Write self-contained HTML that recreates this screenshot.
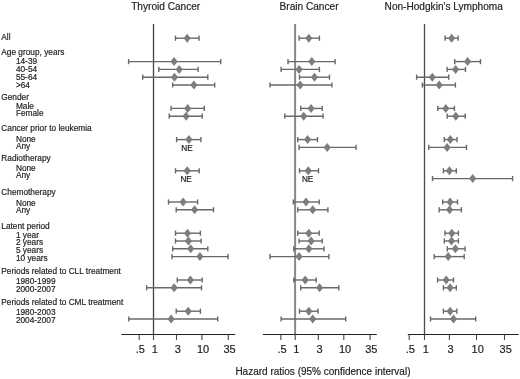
<!DOCTYPE html>
<html><head><meta charset="utf-8"><style>
html,body{margin:0;padding:0;background:#fff;}
body{width:520px;height:379px;position:relative;overflow:hidden;font-family:"Liberation Sans",sans-serif;}
svg text{font-family:"Liberation Sans",sans-serif;stroke:#222;stroke-width:0.18px;}
</style></head><body>
<svg width="520" height="379" viewBox="0 0 520 379" style="position:absolute;left:0;top:0;will-change:transform">
<rect width="520" height="379" fill="#fff"/>
<text x="1.3" y="40.02" font-size="8.3" fill="#222">All</text>
<text x="1.3" y="54.52" font-size="8.3" fill="#222">Age group, years</text>
<text x="15.9" y="64.47" font-size="8.3" fill="#222">14-39</text>
<text x="15.9" y="71.87" font-size="8.3" fill="#222">40-54</text>
<text x="15.9" y="79.57" font-size="8.3" fill="#222">55-64</text>
<text x="15.9" y="87.67" font-size="8.3" fill="#222">&gt;64</text>
<text x="1.3" y="99.82" font-size="8.3" fill="#222">Gender</text>
<text x="15.9" y="109.12" font-size="8.3" fill="#222">Male</text>
<text x="15.9" y="116.32" font-size="8.3" fill="#222">Female</text>
<text x="1.3" y="130.72" font-size="8.3" fill="#222">Cancer prior to leukemia</text>
<text x="15.9" y="141.62" font-size="8.3" fill="#222">None</text>
<text x="15.9" y="149.02" font-size="8.3" fill="#222">Any</text>
<text x="1.3" y="161.12" font-size="8.3" fill="#222">Radiotherapy</text>
<text x="15.9" y="170.82" font-size="8.3" fill="#222">None</text>
<text x="15.9" y="178.32" font-size="8.3" fill="#222">Any</text>
<text x="1.3" y="195.22" font-size="8.3" fill="#222">Chemotherapy</text>
<text x="15.9" y="205.62" font-size="8.3" fill="#222">None</text>
<text x="15.9" y="213.22" font-size="8.3" fill="#222">Any</text>
<text x="1.3" y="228.92" font-size="8.3" fill="#222">Latent period</text>
<text x="15.9" y="237.52" font-size="8.3" fill="#222">1 year</text>
<text x="15.9" y="245.42" font-size="8.3" fill="#222">2 years</text>
<text x="15.9" y="252.92" font-size="8.3" fill="#222">5 years</text>
<text x="15.9" y="260.92" font-size="8.3" fill="#222">10 years</text>
<text x="1.3" y="273.92" font-size="8.3" fill="#222">Periods related to CLL treatment</text>
<text x="15.9" y="284.32" font-size="8.3" fill="#222">1980-1999</text>
<text x="15.9" y="292.02" font-size="8.3" fill="#222">2000-2007</text>
<text x="1.3" y="305.22" font-size="8.3" fill="#222">Periods related to CML treatment</text>
<text x="15.9" y="315.22" font-size="8.3" fill="#222">1980-2003</text>
<text x="15.9" y="322.72" font-size="8.3" fill="#222">2004-2007</text>
<text x="131.2" y="9.7" font-size="10.1" fill="#222">Thyroid Cancer</text>
<text x="279.6" y="9.7" font-size="10.1" fill="#222">Brain Cancer</text>
<text x="384.6" y="9.7" font-size="10.1" fill="#222">Non-Hodgkin&#39;s Lymphoma</text>
<text x="235.4" y="375.4" font-size="10" fill="#222">Hazard ratios (95% confidence interval)</text>
<line x1="153.5" y1="23.9" x2="153.5" y2="334.5" stroke="#444" stroke-width="1.3"/>
<line x1="121.5" y1="334.5" x2="235.3" y2="334.5" stroke="#222" stroke-width="1.2"/>
<line x1="139.20" y1="334.5" x2="139.20" y2="339.9" stroke="#444" stroke-width="1.1"/>
<text x="140.40" y="352.9" font-size="11" text-anchor="middle" fill="#222">.5</text>
<line x1="153.50" y1="334.5" x2="153.50" y2="339.9" stroke="#444" stroke-width="1.1"/>
<text x="154.70" y="352.9" font-size="11" text-anchor="middle" fill="#222">1</text>
<line x1="176.50" y1="334.5" x2="176.50" y2="339.9" stroke="#444" stroke-width="1.1"/>
<text x="177.70" y="352.9" font-size="11" text-anchor="middle" fill="#222">3</text>
<line x1="201.90" y1="334.5" x2="201.90" y2="339.9" stroke="#444" stroke-width="1.1"/>
<text x="203.10" y="352.9" font-size="11" text-anchor="middle" fill="#222">10</text>
<line x1="228.30" y1="334.5" x2="228.30" y2="339.9" stroke="#444" stroke-width="1.1"/>
<text x="229.50" y="352.9" font-size="11" text-anchor="middle" fill="#222">35</text>
<line x1="175.5" y1="38.20" x2="199.0" y2="38.20" stroke="#686868" stroke-width="1.4"/>
<line x1="175.5" y1="35.60" x2="175.5" y2="40.80" stroke="#686868" stroke-width="1.4"/>
<line x1="199.0" y1="35.60" x2="199.0" y2="40.80" stroke="#686868" stroke-width="1.4"/>
<path d="M183.60 38.20L187.20 33.70L190.80 38.20L187.20 42.70Z" fill="#7d7d7d"/>
<line x1="128.6" y1="61.60" x2="220.7" y2="61.60" stroke="#686868" stroke-width="1.4"/>
<line x1="128.6" y1="59.00" x2="128.6" y2="64.20" stroke="#686868" stroke-width="1.4"/>
<line x1="220.7" y1="59.00" x2="220.7" y2="64.20" stroke="#686868" stroke-width="1.4"/>
<path d="M170.50 61.60L174.10 57.10L177.70 61.60L174.10 66.10Z" fill="#7d7d7d"/>
<line x1="158.8" y1="69.40" x2="198.1" y2="69.40" stroke="#686868" stroke-width="1.4"/>
<line x1="158.8" y1="66.80" x2="158.8" y2="72.00" stroke="#686868" stroke-width="1.4"/>
<line x1="198.1" y1="66.80" x2="198.1" y2="72.00" stroke="#686868" stroke-width="1.4"/>
<path d="M175.60 69.40L179.20 64.90L182.80 69.40L179.20 73.90Z" fill="#7d7d7d"/>
<line x1="142.7" y1="77.20" x2="207.8" y2="77.20" stroke="#686868" stroke-width="1.4"/>
<line x1="142.7" y1="74.60" x2="142.7" y2="79.80" stroke="#686868" stroke-width="1.4"/>
<line x1="207.8" y1="74.60" x2="207.8" y2="79.80" stroke="#686868" stroke-width="1.4"/>
<path d="M170.90 77.20L174.50 72.70L178.10 77.20L174.50 81.70Z" fill="#7d7d7d"/>
<line x1="172.7" y1="85.00" x2="214.7" y2="85.00" stroke="#686868" stroke-width="1.4"/>
<line x1="172.7" y1="82.40" x2="172.7" y2="87.60" stroke="#686868" stroke-width="1.4"/>
<line x1="214.7" y1="82.40" x2="214.7" y2="87.60" stroke="#686868" stroke-width="1.4"/>
<path d="M190.30 85.00L193.90 80.50L197.50 85.00L193.90 89.50Z" fill="#7d7d7d"/>
<line x1="171.1" y1="108.40" x2="204.3" y2="108.40" stroke="#686868" stroke-width="1.4"/>
<line x1="171.1" y1="105.80" x2="171.1" y2="111.00" stroke="#686868" stroke-width="1.4"/>
<line x1="204.3" y1="105.80" x2="204.3" y2="111.00" stroke="#686868" stroke-width="1.4"/>
<path d="M184.10 108.40L187.70 103.90L191.30 108.40L187.70 112.90Z" fill="#7d7d7d"/>
<line x1="169.2" y1="116.20" x2="202.2" y2="116.20" stroke="#686868" stroke-width="1.4"/>
<line x1="169.2" y1="113.60" x2="169.2" y2="118.80" stroke="#686868" stroke-width="1.4"/>
<line x1="202.2" y1="113.60" x2="202.2" y2="118.80" stroke="#686868" stroke-width="1.4"/>
<path d="M182.50 116.20L186.10 111.70L189.70 116.20L186.10 120.70Z" fill="#7d7d7d"/>
<line x1="176.6" y1="139.60" x2="200.9" y2="139.60" stroke="#686868" stroke-width="1.4"/>
<line x1="176.6" y1="137.00" x2="176.6" y2="142.20" stroke="#686868" stroke-width="1.4"/>
<line x1="200.9" y1="137.00" x2="200.9" y2="142.20" stroke="#686868" stroke-width="1.4"/>
<path d="M185.30 139.60L188.90 135.10L192.50 139.60L188.90 144.10Z" fill="#7d7d7d"/>
<text x="187.0" y="150.80" font-size="8.2" text-anchor="middle" fill="#222">NE</text>
<line x1="175.5" y1="170.80" x2="199.2" y2="170.80" stroke="#686868" stroke-width="1.4"/>
<line x1="175.5" y1="168.20" x2="175.5" y2="173.40" stroke="#686868" stroke-width="1.4"/>
<line x1="199.2" y1="168.20" x2="199.2" y2="173.40" stroke="#686868" stroke-width="1.4"/>
<path d="M183.60 170.80L187.20 166.30L190.80 170.80L187.20 175.30Z" fill="#7d7d7d"/>
<text x="186.1" y="182.00" font-size="8.2" text-anchor="middle" fill="#222">NE</text>
<line x1="168.5" y1="202.00" x2="197.6" y2="202.00" stroke="#686868" stroke-width="1.4"/>
<line x1="168.5" y1="199.40" x2="168.5" y2="204.60" stroke="#686868" stroke-width="1.4"/>
<line x1="197.6" y1="199.40" x2="197.6" y2="204.60" stroke="#686868" stroke-width="1.4"/>
<path d="M179.50 202.00L183.10 197.50L186.70 202.00L183.10 206.50Z" fill="#7d7d7d"/>
<line x1="176.2" y1="209.80" x2="213.5" y2="209.80" stroke="#686868" stroke-width="1.4"/>
<line x1="176.2" y1="207.20" x2="176.2" y2="212.40" stroke="#686868" stroke-width="1.4"/>
<line x1="213.5" y1="207.20" x2="213.5" y2="212.40" stroke="#686868" stroke-width="1.4"/>
<path d="M191.00 209.80L194.60 205.30L198.20 209.80L194.60 214.30Z" fill="#7d7d7d"/>
<line x1="175.5" y1="233.20" x2="200.4" y2="233.20" stroke="#686868" stroke-width="1.4"/>
<line x1="175.5" y1="230.60" x2="175.5" y2="235.80" stroke="#686868" stroke-width="1.4"/>
<line x1="200.4" y1="230.60" x2="200.4" y2="235.80" stroke="#686868" stroke-width="1.4"/>
<path d="M183.90 233.20L187.50 228.70L191.10 233.20L187.50 237.70Z" fill="#7d7d7d"/>
<line x1="175.5" y1="241.00" x2="201.1" y2="241.00" stroke="#686868" stroke-width="1.4"/>
<line x1="175.5" y1="238.40" x2="175.5" y2="243.60" stroke="#686868" stroke-width="1.4"/>
<line x1="201.1" y1="238.40" x2="201.1" y2="243.60" stroke="#686868" stroke-width="1.4"/>
<path d="M184.80 241.00L188.40 236.50L192.00 241.00L188.40 245.50Z" fill="#7d7d7d"/>
<line x1="172.7" y1="248.80" x2="207.8" y2="248.80" stroke="#686868" stroke-width="1.4"/>
<line x1="172.7" y1="246.20" x2="172.7" y2="251.40" stroke="#686868" stroke-width="1.4"/>
<line x1="207.8" y1="246.20" x2="207.8" y2="251.40" stroke="#686868" stroke-width="1.4"/>
<path d="M187.10 248.80L190.70 244.30L194.30 248.80L190.70 253.30Z" fill="#7d7d7d"/>
<line x1="172.0" y1="256.60" x2="228.1" y2="256.60" stroke="#686868" stroke-width="1.4"/>
<line x1="172.0" y1="254.00" x2="172.0" y2="259.20" stroke="#686868" stroke-width="1.4"/>
<line x1="228.1" y1="254.00" x2="228.1" y2="259.20" stroke="#686868" stroke-width="1.4"/>
<path d="M196.30 256.60L199.90 252.10L203.50 256.60L199.90 261.10Z" fill="#7d7d7d"/>
<line x1="177.3" y1="280.00" x2="202.2" y2="280.00" stroke="#686868" stroke-width="1.4"/>
<line x1="177.3" y1="277.40" x2="177.3" y2="282.60" stroke="#686868" stroke-width="1.4"/>
<line x1="202.2" y1="277.40" x2="202.2" y2="282.60" stroke="#686868" stroke-width="1.4"/>
<path d="M186.80 280.00L190.40 275.50L194.00 280.00L190.40 284.50Z" fill="#7d7d7d"/>
<line x1="146.6" y1="287.80" x2="201.5" y2="287.80" stroke="#686868" stroke-width="1.4"/>
<line x1="146.6" y1="285.20" x2="146.6" y2="290.40" stroke="#686868" stroke-width="1.4"/>
<line x1="201.5" y1="285.20" x2="201.5" y2="290.40" stroke="#686868" stroke-width="1.4"/>
<path d="M170.50 287.80L174.10 283.30L177.70 287.80L174.10 292.30Z" fill="#7d7d7d"/>
<line x1="176.2" y1="311.20" x2="200.4" y2="311.20" stroke="#686868" stroke-width="1.4"/>
<line x1="176.2" y1="308.60" x2="176.2" y2="313.80" stroke="#686868" stroke-width="1.4"/>
<line x1="200.4" y1="308.60" x2="200.4" y2="313.80" stroke="#686868" stroke-width="1.4"/>
<path d="M184.60 311.20L188.20 306.70L191.80 311.20L188.20 315.70Z" fill="#7d7d7d"/>
<line x1="128.8" y1="319.00" x2="217.7" y2="319.00" stroke="#686868" stroke-width="1.4"/>
<line x1="128.8" y1="316.40" x2="128.8" y2="321.60" stroke="#686868" stroke-width="1.4"/>
<line x1="217.7" y1="316.40" x2="217.7" y2="321.60" stroke="#686868" stroke-width="1.4"/>
<path d="M167.50 319.00L171.10 314.50L174.70 319.00L171.10 323.50Z" fill="#7d7d7d"/>
<line x1="295.1" y1="23.9" x2="295.1" y2="334.5" stroke="#888" stroke-width="2.0"/>
<line x1="263.0" y1="334.5" x2="376.8" y2="334.5" stroke="#222" stroke-width="1.2"/>
<line x1="280.90" y1="334.5" x2="280.90" y2="339.9" stroke="#444" stroke-width="1.1"/>
<text x="282.10" y="352.9" font-size="11" text-anchor="middle" fill="#222">.5</text>
<line x1="295.20" y1="334.5" x2="295.20" y2="339.9" stroke="#444" stroke-width="1.1"/>
<text x="296.40" y="352.9" font-size="11" text-anchor="middle" fill="#222">1</text>
<line x1="318.30" y1="334.5" x2="318.30" y2="339.9" stroke="#444" stroke-width="1.1"/>
<text x="319.50" y="352.9" font-size="11" text-anchor="middle" fill="#222">3</text>
<line x1="343.80" y1="334.5" x2="343.80" y2="339.9" stroke="#444" stroke-width="1.1"/>
<text x="345.00" y="352.9" font-size="11" text-anchor="middle" fill="#222">10</text>
<line x1="370.10" y1="334.5" x2="370.10" y2="339.9" stroke="#444" stroke-width="1.1"/>
<text x="371.30" y="352.9" font-size="11" text-anchor="middle" fill="#222">35</text>
<line x1="299.1" y1="38.20" x2="319.4" y2="38.20" stroke="#686868" stroke-width="1.4"/>
<line x1="299.1" y1="35.60" x2="299.1" y2="40.80" stroke="#686868" stroke-width="1.4"/>
<line x1="319.4" y1="35.60" x2="319.4" y2="40.80" stroke="#686868" stroke-width="1.4"/>
<path d="M305.20 38.20L308.80 33.70L312.40 38.20L308.80 42.70Z" fill="#7d7d7d"/>
<line x1="288.0" y1="61.60" x2="335.1" y2="61.60" stroke="#686868" stroke-width="1.4"/>
<line x1="288.0" y1="59.00" x2="288.0" y2="64.20" stroke="#686868" stroke-width="1.4"/>
<line x1="335.1" y1="59.00" x2="335.1" y2="64.20" stroke="#686868" stroke-width="1.4"/>
<path d="M308.20 61.60L311.80 57.10L315.40 61.60L311.80 66.10Z" fill="#7d7d7d"/>
<line x1="281.1" y1="69.40" x2="319.4" y2="69.40" stroke="#686868" stroke-width="1.4"/>
<line x1="281.1" y1="66.80" x2="281.1" y2="72.00" stroke="#686868" stroke-width="1.4"/>
<line x1="319.4" y1="66.80" x2="319.4" y2="72.00" stroke="#686868" stroke-width="1.4"/>
<path d="M295.50 69.40L299.10 64.90L302.70 69.40L299.10 73.90Z" fill="#7d7d7d"/>
<line x1="299.5" y1="77.20" x2="329.5" y2="77.20" stroke="#686868" stroke-width="1.4"/>
<line x1="299.5" y1="74.60" x2="299.5" y2="79.80" stroke="#686868" stroke-width="1.4"/>
<line x1="329.5" y1="74.60" x2="329.5" y2="79.80" stroke="#686868" stroke-width="1.4"/>
<path d="M310.90 77.20L314.50 72.70L318.10 77.20L314.50 81.70Z" fill="#7d7d7d"/>
<line x1="270.0" y1="85.00" x2="331.9" y2="85.00" stroke="#686868" stroke-width="1.4"/>
<line x1="270.0" y1="82.40" x2="270.0" y2="87.60" stroke="#686868" stroke-width="1.4"/>
<line x1="331.9" y1="82.40" x2="331.9" y2="87.60" stroke="#686868" stroke-width="1.4"/>
<path d="M296.60 85.00L300.20 80.50L303.80 85.00L300.20 89.50Z" fill="#7d7d7d"/>
<line x1="300.7" y1="108.40" x2="322.2" y2="108.40" stroke="#686868" stroke-width="1.4"/>
<line x1="300.7" y1="105.80" x2="300.7" y2="111.00" stroke="#686868" stroke-width="1.4"/>
<line x1="322.2" y1="105.80" x2="322.2" y2="111.00" stroke="#686868" stroke-width="1.4"/>
<path d="M307.50 108.40L311.10 103.90L314.70 108.40L311.10 112.90Z" fill="#7d7d7d"/>
<line x1="284.8" y1="116.20" x2="323.1" y2="116.20" stroke="#686868" stroke-width="1.4"/>
<line x1="284.8" y1="113.60" x2="284.8" y2="118.80" stroke="#686868" stroke-width="1.4"/>
<line x1="323.1" y1="113.60" x2="323.1" y2="118.80" stroke="#686868" stroke-width="1.4"/>
<path d="M300.10 116.20L303.70 111.70L307.30 116.20L303.70 120.70Z" fill="#7d7d7d"/>
<line x1="297.7" y1="139.60" x2="317.5" y2="139.60" stroke="#686868" stroke-width="1.4"/>
<line x1="297.7" y1="137.00" x2="297.7" y2="142.20" stroke="#686868" stroke-width="1.4"/>
<line x1="317.5" y1="137.00" x2="317.5" y2="142.20" stroke="#686868" stroke-width="1.4"/>
<path d="M304.00 139.60L307.60 135.10L311.20 139.60L307.60 144.10Z" fill="#7d7d7d"/>
<line x1="299.1" y1="147.40" x2="356.1" y2="147.40" stroke="#686868" stroke-width="1.4"/>
<line x1="299.1" y1="144.80" x2="299.1" y2="150.00" stroke="#686868" stroke-width="1.4"/>
<line x1="356.1" y1="144.80" x2="356.1" y2="150.00" stroke="#686868" stroke-width="1.4"/>
<path d="M323.60 147.40L327.20 142.90L330.80 147.40L327.20 151.90Z" fill="#7d7d7d"/>
<line x1="299.5" y1="170.80" x2="318.5" y2="170.80" stroke="#686868" stroke-width="1.4"/>
<line x1="299.5" y1="168.20" x2="299.5" y2="173.40" stroke="#686868" stroke-width="1.4"/>
<line x1="318.5" y1="168.20" x2="318.5" y2="173.40" stroke="#686868" stroke-width="1.4"/>
<path d="M304.70 170.80L308.30 166.30L311.90 170.80L308.30 175.30Z" fill="#7d7d7d"/>
<text x="307.6" y="182.00" font-size="8.2" text-anchor="middle" fill="#222">NE</text>
<line x1="293.3" y1="202.00" x2="319.2" y2="202.00" stroke="#686868" stroke-width="1.4"/>
<line x1="293.3" y1="199.40" x2="293.3" y2="204.60" stroke="#686868" stroke-width="1.4"/>
<line x1="319.2" y1="199.40" x2="319.2" y2="204.60" stroke="#686868" stroke-width="1.4"/>
<path d="M302.40 202.00L306.00 197.50L309.60 202.00L306.00 206.50Z" fill="#7d7d7d"/>
<line x1="297.7" y1="209.80" x2="327.9" y2="209.80" stroke="#686868" stroke-width="1.4"/>
<line x1="297.7" y1="207.20" x2="297.7" y2="212.40" stroke="#686868" stroke-width="1.4"/>
<line x1="327.9" y1="207.20" x2="327.9" y2="212.40" stroke="#686868" stroke-width="1.4"/>
<path d="M309.10 209.80L312.70 205.30L316.30 209.80L312.70 214.30Z" fill="#7d7d7d"/>
<line x1="297.7" y1="233.20" x2="319.2" y2="233.20" stroke="#686868" stroke-width="1.4"/>
<line x1="297.7" y1="230.60" x2="297.7" y2="235.80" stroke="#686868" stroke-width="1.4"/>
<line x1="319.2" y1="230.60" x2="319.2" y2="235.80" stroke="#686868" stroke-width="1.4"/>
<path d="M305.20 233.20L308.80 228.70L312.40 233.20L308.80 237.70Z" fill="#7d7d7d"/>
<line x1="299.1" y1="241.00" x2="322.2" y2="241.00" stroke="#686868" stroke-width="1.4"/>
<line x1="299.1" y1="238.40" x2="299.1" y2="243.60" stroke="#686868" stroke-width="1.4"/>
<line x1="322.2" y1="238.40" x2="322.2" y2="243.60" stroke="#686868" stroke-width="1.4"/>
<path d="M307.50 241.00L311.10 236.50L314.70 241.00L311.10 245.50Z" fill="#7d7d7d"/>
<line x1="293.8" y1="248.80" x2="324.0" y2="248.80" stroke="#686868" stroke-width="1.4"/>
<line x1="293.8" y1="246.20" x2="293.8" y2="251.40" stroke="#686868" stroke-width="1.4"/>
<line x1="324.0" y1="246.20" x2="324.0" y2="251.40" stroke="#686868" stroke-width="1.4"/>
<path d="M305.20 248.80L308.80 244.30L312.40 248.80L308.80 253.30Z" fill="#7d7d7d"/>
<line x1="270.0" y1="256.60" x2="328.9" y2="256.60" stroke="#686868" stroke-width="1.4"/>
<line x1="270.0" y1="254.00" x2="270.0" y2="259.20" stroke="#686868" stroke-width="1.4"/>
<line x1="328.9" y1="254.00" x2="328.9" y2="259.20" stroke="#686868" stroke-width="1.4"/>
<path d="M295.50 256.60L299.10 252.10L302.70 256.60L299.10 261.10Z" fill="#7d7d7d"/>
<line x1="293.8" y1="280.00" x2="316.2" y2="280.00" stroke="#686868" stroke-width="1.4"/>
<line x1="293.8" y1="277.40" x2="293.8" y2="282.60" stroke="#686868" stroke-width="1.4"/>
<line x1="316.2" y1="277.40" x2="316.2" y2="282.60" stroke="#686868" stroke-width="1.4"/>
<path d="M301.60 280.00L305.20 275.50L308.80 280.00L305.20 284.50Z" fill="#7d7d7d"/>
<line x1="300.7" y1="287.80" x2="338.8" y2="287.80" stroke="#686868" stroke-width="1.4"/>
<line x1="300.7" y1="285.20" x2="300.7" y2="290.40" stroke="#686868" stroke-width="1.4"/>
<line x1="338.8" y1="285.20" x2="338.8" y2="290.40" stroke="#686868" stroke-width="1.4"/>
<path d="M316.00 287.80L319.60 283.30L323.20 287.80L319.60 292.30Z" fill="#7d7d7d"/>
<line x1="299.5" y1="311.20" x2="318.0" y2="311.20" stroke="#686868" stroke-width="1.4"/>
<line x1="299.5" y1="308.60" x2="299.5" y2="313.80" stroke="#686868" stroke-width="1.4"/>
<line x1="318.0" y1="308.60" x2="318.0" y2="313.80" stroke="#686868" stroke-width="1.4"/>
<path d="M305.20 311.20L308.80 306.70L312.40 311.20L308.80 315.70Z" fill="#7d7d7d"/>
<line x1="281.1" y1="319.00" x2="345.7" y2="319.00" stroke="#686868" stroke-width="1.4"/>
<line x1="281.1" y1="316.40" x2="281.1" y2="321.60" stroke="#686868" stroke-width="1.4"/>
<line x1="345.7" y1="316.40" x2="345.7" y2="321.60" stroke="#686868" stroke-width="1.4"/>
<path d="M309.10 319.00L312.70 314.50L316.30 319.00L312.70 323.50Z" fill="#7d7d7d"/>
<line x1="424.5" y1="23.9" x2="424.5" y2="334.5" stroke="#4a4a4a" stroke-width="1.3"/>
<line x1="407.8" y1="334.5" x2="518.6" y2="334.5" stroke="#222" stroke-width="1.2"/>
<line x1="409.20" y1="334.5" x2="409.20" y2="339.9" stroke="#444" stroke-width="1.1"/>
<text x="410.40" y="352.9" font-size="11" text-anchor="middle" fill="#222">.5</text>
<line x1="424.50" y1="334.5" x2="424.50" y2="339.9" stroke="#444" stroke-width="1.1"/>
<text x="425.70" y="352.9" font-size="11" text-anchor="middle" fill="#222">1</text>
<line x1="449.40" y1="334.5" x2="449.40" y2="339.9" stroke="#444" stroke-width="1.1"/>
<text x="450.60" y="352.9" font-size="11" text-anchor="middle" fill="#222">3</text>
<line x1="476.50" y1="334.5" x2="476.50" y2="339.9" stroke="#444" stroke-width="1.1"/>
<text x="477.70" y="352.9" font-size="11" text-anchor="middle" fill="#222">10</text>
<line x1="504.50" y1="334.5" x2="504.50" y2="339.9" stroke="#444" stroke-width="1.1"/>
<text x="505.70" y="352.9" font-size="11" text-anchor="middle" fill="#222">35</text>
<line x1="445.1" y1="38.20" x2="458.1" y2="38.20" stroke="#686868" stroke-width="1.4"/>
<line x1="445.1" y1="35.60" x2="445.1" y2="40.80" stroke="#686868" stroke-width="1.4"/>
<line x1="458.1" y1="35.60" x2="458.1" y2="40.80" stroke="#686868" stroke-width="1.4"/>
<path d="M448.00 38.20L451.60 33.70L455.20 38.20L451.60 42.70Z" fill="#7d7d7d"/>
<line x1="454.7" y1="61.60" x2="480.5" y2="61.60" stroke="#686868" stroke-width="1.4"/>
<line x1="454.7" y1="59.00" x2="454.7" y2="64.20" stroke="#686868" stroke-width="1.4"/>
<line x1="480.5" y1="59.00" x2="480.5" y2="64.20" stroke="#686868" stroke-width="1.4"/>
<path d="M464.00 61.60L467.60 57.10L471.20 61.60L467.60 66.10Z" fill="#7d7d7d"/>
<line x1="447.1" y1="69.40" x2="465.5" y2="69.40" stroke="#686868" stroke-width="1.4"/>
<line x1="447.1" y1="66.80" x2="447.1" y2="72.00" stroke="#686868" stroke-width="1.4"/>
<line x1="465.5" y1="66.80" x2="465.5" y2="72.00" stroke="#686868" stroke-width="1.4"/>
<path d="M452.00 69.40L455.60 64.90L459.20 69.40L455.60 73.90Z" fill="#7d7d7d"/>
<line x1="416.6" y1="77.20" x2="448.7" y2="77.20" stroke="#686868" stroke-width="1.4"/>
<line x1="416.6" y1="74.60" x2="416.6" y2="79.80" stroke="#686868" stroke-width="1.4"/>
<line x1="448.7" y1="74.60" x2="448.7" y2="79.80" stroke="#686868" stroke-width="1.4"/>
<path d="M428.70 77.20L432.30 72.70L435.90 77.20L432.30 81.70Z" fill="#7d7d7d"/>
<line x1="422.4" y1="85.00" x2="455.4" y2="85.00" stroke="#686868" stroke-width="1.4"/>
<line x1="422.4" y1="82.40" x2="422.4" y2="87.60" stroke="#686868" stroke-width="1.4"/>
<line x1="455.4" y1="82.40" x2="455.4" y2="87.60" stroke="#686868" stroke-width="1.4"/>
<path d="M435.60 85.00L439.20 80.50L442.80 85.00L439.20 89.50Z" fill="#7d7d7d"/>
<line x1="437.8" y1="108.40" x2="454.4" y2="108.40" stroke="#686868" stroke-width="1.4"/>
<line x1="437.8" y1="105.80" x2="437.8" y2="111.00" stroke="#686868" stroke-width="1.4"/>
<line x1="454.4" y1="105.80" x2="454.4" y2="111.00" stroke="#686868" stroke-width="1.4"/>
<path d="M442.20 108.40L445.80 103.90L449.40 108.40L445.80 112.90Z" fill="#7d7d7d"/>
<line x1="447.2" y1="116.20" x2="465.2" y2="116.20" stroke="#686868" stroke-width="1.4"/>
<line x1="447.2" y1="113.60" x2="447.2" y2="118.80" stroke="#686868" stroke-width="1.4"/>
<line x1="465.2" y1="113.60" x2="465.2" y2="118.80" stroke="#686868" stroke-width="1.4"/>
<path d="M452.20 116.20L455.80 111.70L459.40 116.20L455.80 120.70Z" fill="#7d7d7d"/>
<line x1="444.3" y1="139.60" x2="457.0" y2="139.60" stroke="#686868" stroke-width="1.4"/>
<line x1="444.3" y1="137.00" x2="444.3" y2="142.20" stroke="#686868" stroke-width="1.4"/>
<line x1="457.0" y1="137.00" x2="457.0" y2="142.20" stroke="#686868" stroke-width="1.4"/>
<path d="M446.70 139.60L450.30 135.10L453.90 139.60L450.30 144.10Z" fill="#7d7d7d"/>
<line x1="428.8" y1="147.40" x2="466.5" y2="147.40" stroke="#686868" stroke-width="1.4"/>
<line x1="428.8" y1="144.80" x2="428.8" y2="150.00" stroke="#686868" stroke-width="1.4"/>
<line x1="466.5" y1="144.80" x2="466.5" y2="150.00" stroke="#686868" stroke-width="1.4"/>
<path d="M443.50 147.40L447.10 142.90L450.70 147.40L447.10 151.90Z" fill="#7d7d7d"/>
<line x1="443.4" y1="170.80" x2="456.3" y2="170.80" stroke="#686868" stroke-width="1.4"/>
<line x1="443.4" y1="168.20" x2="443.4" y2="173.40" stroke="#686868" stroke-width="1.4"/>
<line x1="456.3" y1="168.20" x2="456.3" y2="173.40" stroke="#686868" stroke-width="1.4"/>
<path d="M445.80 170.80L449.40 166.30L453.00 170.80L449.40 175.30Z" fill="#7d7d7d"/>
<line x1="432.5" y1="178.60" x2="512.6" y2="178.60" stroke="#686868" stroke-width="1.4"/>
<line x1="432.5" y1="176.00" x2="432.5" y2="181.20" stroke="#686868" stroke-width="1.4"/>
<line x1="512.6" y1="176.00" x2="512.6" y2="181.20" stroke="#686868" stroke-width="1.4"/>
<path d="M469.10 178.60L472.70 174.10L476.30 178.60L472.70 183.10Z" fill="#7d7d7d"/>
<line x1="442.7" y1="202.00" x2="457.5" y2="202.00" stroke="#686868" stroke-width="1.4"/>
<line x1="442.7" y1="199.40" x2="442.7" y2="204.60" stroke="#686868" stroke-width="1.4"/>
<line x1="457.5" y1="199.40" x2="457.5" y2="204.60" stroke="#686868" stroke-width="1.4"/>
<path d="M446.50 202.00L450.10 197.50L453.70 202.00L450.10 206.50Z" fill="#7d7d7d"/>
<line x1="439.2" y1="209.80" x2="461.4" y2="209.80" stroke="#686868" stroke-width="1.4"/>
<line x1="439.2" y1="207.20" x2="439.2" y2="212.40" stroke="#686868" stroke-width="1.4"/>
<line x1="461.4" y1="207.20" x2="461.4" y2="212.40" stroke="#686868" stroke-width="1.4"/>
<path d="M446.00 209.80L449.60 205.30L453.20 209.80L449.60 214.30Z" fill="#7d7d7d"/>
<line x1="445.0" y1="233.20" x2="458.4" y2="233.20" stroke="#686868" stroke-width="1.4"/>
<line x1="445.0" y1="230.60" x2="445.0" y2="235.80" stroke="#686868" stroke-width="1.4"/>
<line x1="458.4" y1="230.60" x2="458.4" y2="235.80" stroke="#686868" stroke-width="1.4"/>
<path d="M448.20 233.20L451.80 228.70L455.40 233.20L451.80 237.70Z" fill="#7d7d7d"/>
<line x1="444.3" y1="241.00" x2="458.4" y2="241.00" stroke="#686868" stroke-width="1.4"/>
<line x1="444.3" y1="238.40" x2="444.3" y2="243.60" stroke="#686868" stroke-width="1.4"/>
<line x1="458.4" y1="238.40" x2="458.4" y2="243.60" stroke="#686868" stroke-width="1.4"/>
<path d="M447.90 241.00L451.50 236.50L455.10 241.00L451.50 245.50Z" fill="#7d7d7d"/>
<line x1="447.3" y1="248.80" x2="465.1" y2="248.80" stroke="#686868" stroke-width="1.4"/>
<line x1="447.3" y1="246.20" x2="447.3" y2="251.40" stroke="#686868" stroke-width="1.4"/>
<line x1="465.1" y1="246.20" x2="465.1" y2="251.40" stroke="#686868" stroke-width="1.4"/>
<path d="M451.80 248.80L455.40 244.30L459.00 248.80L455.40 253.30Z" fill="#7d7d7d"/>
<line x1="434.2" y1="256.60" x2="464.2" y2="256.60" stroke="#686868" stroke-width="1.4"/>
<line x1="434.2" y1="254.00" x2="434.2" y2="259.20" stroke="#686868" stroke-width="1.4"/>
<line x1="464.2" y1="254.00" x2="464.2" y2="259.20" stroke="#686868" stroke-width="1.4"/>
<path d="M444.60 256.60L448.20 252.10L451.80 256.60L448.20 261.10Z" fill="#7d7d7d"/>
<line x1="437.6" y1="280.00" x2="453.5" y2="280.00" stroke="#686868" stroke-width="1.4"/>
<line x1="437.6" y1="277.40" x2="437.6" y2="282.60" stroke="#686868" stroke-width="1.4"/>
<line x1="453.5" y1="277.40" x2="453.5" y2="282.60" stroke="#686868" stroke-width="1.4"/>
<path d="M442.60 280.00L446.20 275.50L449.80 280.00L446.20 284.50Z" fill="#7d7d7d"/>
<line x1="443.4" y1="287.80" x2="456.3" y2="287.80" stroke="#686868" stroke-width="1.4"/>
<line x1="443.4" y1="285.20" x2="443.4" y2="290.40" stroke="#686868" stroke-width="1.4"/>
<line x1="456.3" y1="285.20" x2="456.3" y2="290.40" stroke="#686868" stroke-width="1.4"/>
<path d="M446.50 287.80L450.10 283.30L453.70 287.80L450.10 292.30Z" fill="#7d7d7d"/>
<line x1="443.4" y1="311.20" x2="456.8" y2="311.20" stroke="#686868" stroke-width="1.4"/>
<line x1="443.4" y1="308.60" x2="443.4" y2="313.80" stroke="#686868" stroke-width="1.4"/>
<line x1="456.8" y1="308.60" x2="456.8" y2="313.80" stroke="#686868" stroke-width="1.4"/>
<path d="M446.50 311.20L450.10 306.70L453.70 311.20L450.10 315.70Z" fill="#7d7d7d"/>
<line x1="430.5" y1="319.00" x2="475.7" y2="319.00" stroke="#686868" stroke-width="1.4"/>
<line x1="430.5" y1="316.40" x2="430.5" y2="321.60" stroke="#686868" stroke-width="1.4"/>
<line x1="475.7" y1="316.40" x2="475.7" y2="321.60" stroke="#686868" stroke-width="1.4"/>
<path d="M449.90 319.00L453.50 314.50L457.10 319.00L453.50 323.50Z" fill="#7d7d7d"/>
</svg>
</body></html>
